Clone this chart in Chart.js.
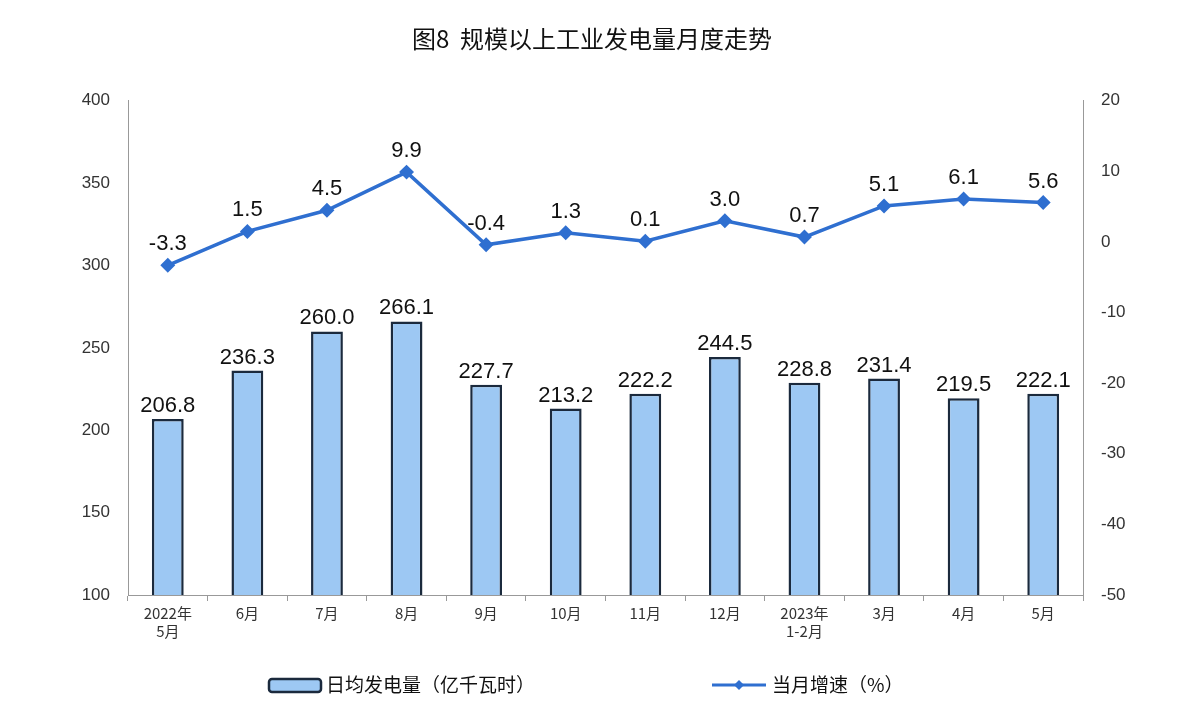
<!DOCTYPE html>
<html><head><meta charset="utf-8">
<script src="https://cdn.jsdelivr.net/npm/chart.js@4/dist/chart.umd.min.js"></script>
<style>body{margin:0;background:#fff}#w{width:1184px;height:728px}</style>
</head><body><div id="w"><canvas id="c"></canvas></div>
<script>
const categories=[["2022年","5月"],"6月","7月","8月","9月","10月","11月","12月",["2023年","1-2月"],"3月","4月","5月"];
const dailyOutput=[206.8,236.3,260.0,266.1,227.7,213.2,222.2,244.5,228.8,231.4,219.5,222.1];
const growth=[-3.3,1.5,4.5,9.9,-0.4,1.3,0.1,3.0,0.7,5.1,6.1,5.6];
const legendLabels=['日均发电量（亿千瓦时）','当月增速（%）'];
const BAR='#9DC8F3',BORD='#1B2A3D',LINE='#2F6FD0';
const labelsPlugin={id:'lbl',afterDatasetsDraw(ch){const g=ch.ctx;g.save();g.font='22px "Liberation Sans",Arial,sans-serif';g.fillStyle='#111';g.textAlign='center';g.textBaseline='bottom';
 ch.data.datasets.forEach((d,i)=>{ch.getDatasetMeta(i).data.forEach((e,j)=>{g.fillText(d.data[j].toFixed(1),e.x,e.y-(i===0?2:10));});});
 // legend
 const y=685;g.fillStyle=BAR;g.strokeStyle=BORD;g.lineWidth=2.5;g.beginPath();g.roundRect(269,y-6,52,13,3);g.fill();g.stroke();
 g.strokeStyle=LINE;g.lineWidth=3;g.beginPath();g.moveTo(712,y);g.lineTo(766,y);g.stroke();g.fillStyle=LINE;g.beginPath();g.moveTo(739,y-5);g.lineTo(744,y);g.lineTo(739,y+5);g.lineTo(734,y);g.fill();
 g.font='19px "Noto Sans CJK SC"';g.fillStyle='#111';g.textAlign='left';g.textBaseline='middle';g.fillText(legendLabels[0],326,y);g.fillText(legendLabels[1],772,y);
 g.restore();}};
new Chart(document.getElementById('c'),{data:{labels:categories,datasets:[
 {type:'bar',label:legendLabels[0],data:dailyOutput,backgroundColor:BAR,borderColor:BORD,borderWidth:2.5,yAxisID:'y',barPercentage:0.4,categoryPercentage:1,order:2},
 {type:'line',label:legendLabels[1],data:growth,borderColor:LINE,backgroundColor:LINE,borderWidth:3.5,pointStyle:'rectRot',pointRadius:5,yAxisID:'y1',order:1}
]},options:{responsive:true,maintainAspectRatio:false,animation:false,layout:{padding:{left:0,right:0,top:0,bottom:57}},
 plugins:{title:{display:true,text:'图8  规模以上工业发电量月度走势',font:{size:24,weight:'normal',family:'"Noto Sans CJK SC"'},color:'#111',padding:{top:24,bottom:48}},
  legend:{display:false},tooltip:{enabled:false}},
 scales:{x:{grid:{display:true,drawOnChartArea:false,color:'#999',tickLength:6,offset:true},border:{color:'#999'},ticks:{font:{size:15,family:'"Noto Sans CJK SC"'},color:'#333',maxRotation:0,autoSkip:false},afterFit(a){a.height=76;}},
  y:{position:'left',min:100,max:400,ticks:{stepSize:50,font:{size:17},color:'#333',padding:10},grid:{display:false},border:{color:'#999'},afterFit(a){a.width=128;}},
  y1:{position:'right',min:-50,max:20,ticks:{stepSize:10,font:{size:17},color:'#333',padding:10},grid:{display:false},border:{color:'#999'},afterFit(a){a.width=101;}}}},
 plugins:[labelsPlugin]});
</script></body></html>
